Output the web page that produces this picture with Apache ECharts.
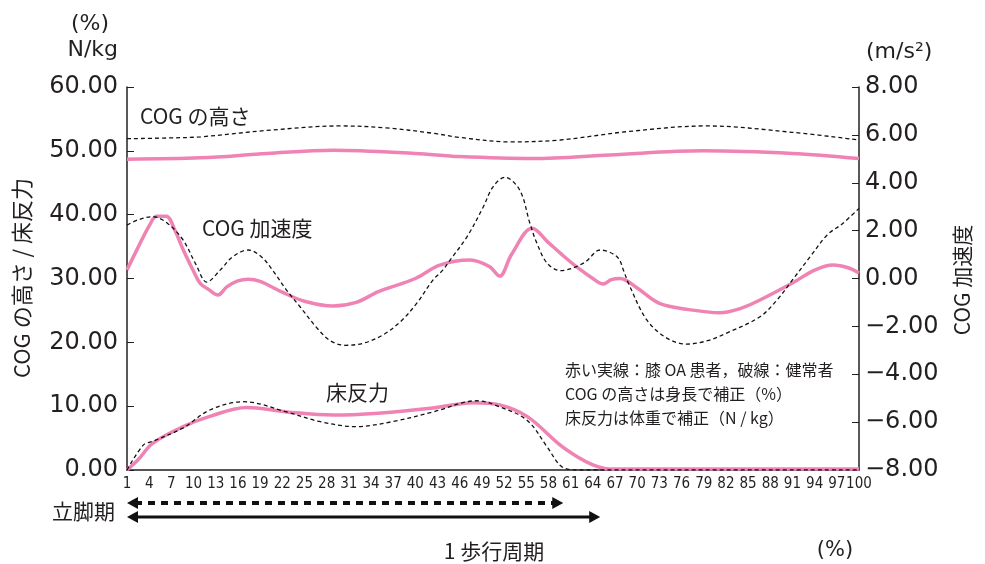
<!DOCTYPE html>
<html><head><meta charset="utf-8">
<script src="https://cdn.jsdelivr.net/npm/echarts@6/dist/echarts.min.js"></script>
<style>html,body{margin:0;padding:0;background:#fff}#c{width:985px;height:564px}</style>
</head><body><div id="c"></div>
<script>
// categories (1 歩行周期 %)
const categories = Array.from({length: 100}, (_, i) => String(i + 1));
// COG の高さ (%)  [gait %, value]
const cogHeightOA = [[1,48.7],[11,48.9],[20,49.6],[28.9,50.1],[40,49.6],[46,49.1],[55.9,48.8],[66.3,49.35],[78.9,50.0],[91,49.6],[100,48.8]];
const cogHeightNormal = [[1,51.9],[6,52.0],[11,52.2],[20,53.2],[29.8,53.9],[36,53.6],[42.4,52.75],[46,52.1],[52.8,51.4],[59.6,51.7],[68.6,53.0],[79.4,53.9],[91,52.9],[100,51.7]];
// COG 加速度 (m/s2)
const cogAccOA = [[1,0.36],[2.5,1.3],[4,2.2],[5,2.6],[6.3,2.6],[7.5,2.0],[8.6,1.2],[10,0.3],[10.9,-0.2],[12,-0.45],[13.3,-0.69],[14.5,-0.35],[16,-0.1],[17.4,-0.03],[19,-0.12],[22,-0.57],[25,-0.95],[28.9,-1.15],[32,-1.0],[35,-0.55],[40,0.0],[43.3,0.56],[47.4,0.77],[50,0.5],[51.4,0.1],[53,1.0],[55.8,2.1],[58,1.5],[60,0.95],[62,0.44],[64,0.0],[65.4,-0.23],[66.5,-0.05],[67.7,0.0],[70,-0.4],[73,-1.04],[77,-1.3],[81.2,-1.43],[84,-1.25],[86.6,-0.9],[91,-0.19],[94,0.35],[96.5,0.56],[98.5,0.45],[100,0.23]];
const cogAccNormal = [[1,2.23],[2.5,2.45],[4.5,2.58],[6.5,2.3],[8.6,1.6],[10.3,0.6],[11.8,-0.15],[13.6,0.35],[15.3,0.91],[17.4,1.19],[19.2,0.9],[20.8,0.3],[22.5,-0.45],[24.4,-1.18],[26.7,-2.07],[28.5,-2.6],[30.5,-2.79],[33,-2.7],[35.6,-2.36],[38,-1.8],[40.2,-1.03],[42.4,-0.06],[43.7,0.35],[44.7,0.77],[47,1.75],[49.2,3.0],[50.5,3.83],[52.1,4.23],[54.1,3.7],[55.5,2.3],[56.4,1.5],[57.8,0.65],[59.6,0.33],[62.8,0.65],[65,1.19],[67.3,0.9],[68.2,0.3],[68.8,-0.19],[71.3,-1.73],[74,-2.49],[76.7,-2.74],[79.5,-2.6],[82.1,-2.28],[86.6,-1.6],[88.9,-0.9],[91,-0.06],[93.4,0.91],[95.7,1.82],[97.8,2.3],[100,2.93]];
// 床反力 (N/kg)
const grfOA = [[1,0],[2.5,1.6],[4.5,4.2],[8.6,6.8],[12.2,8.4],[17.2,9.8],[22.6,9.1],[28.9,8.6],[35,8.9],[42.4,9.7],[47.8,10.55],[51.4,10.2],[55.1,8.4],[59.6,3.9],[62,2.0],[64,0.8],[65.6,0.25],[67,0.15],[100,0.15]];
const grfNormal = [[1,0],[3.2,3.9],[4.5,4.5],[8.6,6.6],[12.2,9.4],[16.7,10.7],[22.6,9.1],[27,7.6],[31.9,6.8],[37,7.6],[42.4,9.1],[48.3,10.85],[51.4,9.9],[55.1,7.8],[57.8,3.65],[59.6,0.7],[61,0.05],[62,0],[100,0]];
// 立脚期 end (% of gait cycle): [健常者, 膝 OA 患者]
const stanceEnd = [60, 65];

const PINK = '#ef83b4';
const INK = '#231f20';
const chart = echarts.init(document.getElementById('c'));
const pinkLine = (data, yi) => ({type:'line', data, xAxisIndex:1, yAxisIndex:yi, smooth:0.35, showSymbol:false, symbol:'none', lineStyle:{color:PINK, width:3.5}, z:2});
const dashLine = (data, yi) => ({type:'line', data, xAxisIndex:1, yAxisIndex:yi, smooth:0.35, showSymbol:false, symbol:'none', lineStyle:{color:'#111', width:1.3, type:[4,3]}, z:3});
const num = v => (v < 0 ? '\u2212' : '') + Math.abs(v).toFixed(2);

chart.setOption({
  animation:false,
  grid:{left:127, right:126, top:87, bottom:94},
  xAxis:[
    {type:'category', data:categories, boundaryGap:false,
     axisLine:{lineStyle:{color:INK, width:1.5}}, axisTick:{show:false},
     axisLabel:{interval:2, showMaxLabel:true, showMinLabel:true, hideOverlap:false, color:INK, fontFamily:'Liberation Sans Narrow, DejaVu Sans Condensed, sans-serif', fontSize:15, margin:7}},
    {type:'value', min:1, max:100, show:false}
  ],
  yAxis:[
    {type:'value', min:0, max:60, interval:10, splitLine:{show:false},
     axisLine:{show:true, lineStyle:{color:INK, width:1.5}},
     axisTick:{show:true, inside:true, length:7, lineStyle:{color:INK}},
     axisLabel:{formatter:num, color:INK, fontFamily:'DejaVu Sans', fontSize:24, margin:9}},
    {type:'value', min:-8, max:8, interval:2, splitLine:{show:false}, position:'right',
     axisLine:{show:true, lineStyle:{color:INK, width:1.5}},
     axisTick:{show:true, inside:true, length:7, lineStyle:{color:INK}},
     axisLabel:{formatter:num, color:INK, fontFamily:'DejaVu Sans', fontSize:24, margin:6}}
  ],
  series:[
    pinkLine(cogHeightOA,0), pinkLine(cogAccOA,1), pinkLine(grfOA,0),
    dashLine(cogHeightNormal,0), dashLine(cogAccNormal,1), dashLine(grfNormal,0)
  ]
});

const JP = "'Noto Sans CJK JP', sans-serif";
const txt = (x, y, text, size, extra) => Object.assign({type:'text', x, y, style:{text, fill:INK, font:size + 'px ' + JP, textAlign:'left', textVerticalAlign:'middle'}}, extra || {});
const x0 = chart.convertToPixel({xAxisIndex:1}, 1);
const xd = chart.convertToPixel({xAxisIndex:1}, stanceEnd[0]);
const xs = chart.convertToPixel({xAxisIndex:1}, stanceEnd[1]);
const arrow = (xa, xb, y, dashed) => [
  {type:'line', shape:{x1:xa+8, y1:y, x2:xb-8, y2:y}, style:{stroke:'#111', lineWidth:dashed?4:3.2, lineDash:dashed?[7,6]:null}},
  {type:'polygon', shape:{points:[[xa,y],[xa+11,y-6],[xa+11,y+6]]}, style:{fill:'#111'}},
  {type:'polygon', shape:{points:[[xb,y],[xb-11,y-6],[xb-11,y+6]]}, style:{fill:'#111'}}
];
chart.setOption({graphic:[
  {type:'text', x:90, y:24, style:{text:'(%)', fill:INK, font:"22px 'DejaVu Sans'", textAlign:'center', textVerticalAlign:'middle'}},
  {type:'text', x:118, y:50, style:{text:'N/kg', fill:INK, font:"22px 'DejaVu Sans'", textAlign:'right', textVerticalAlign:'middle'}},
  {type:'text', x:866, y:52, style:{text:'(m/s²)', fill:INK, font:"22px 'DejaVu Sans'", textAlign:'left', textVerticalAlign:'middle'}},
  txt(140, 116, 'COG の高さ', 21),
  txt(202, 228, 'COG 加速度', 21),
  txt(326, 392, '床反力', 21),
  txt(565, 370, '赤い実線：膝 OA 患者，破線：健常者', 16),
  txt(565, 394, 'COG の高さは身長で補正（%）', 16),
  txt(565, 418, '床反力は体重で補正（N / kg）', 16),
  txt(22, 278, '', 22, {rotation:Math.PI/2, style:{text:'COG の高さ / 床反力', fill:INK, font:'22px ' + JP, textAlign:'center', textVerticalAlign:'middle'}}),
  txt(962, 280, '', 21, {rotation:Math.PI/2, style:{text:'COG 加速度', fill:INK, font:'21px ' + JP, textAlign:'center', textVerticalAlign:'middle'}}),
  txt(52, 511, '立脚期', 21),
  {type:'text', x:494, y:551, style:{text:'1 歩行周期', fill:INK, font:'21px ' + JP, textAlign:'center', textVerticalAlign:'middle'}},
  {type:'text', x:835, y:551, style:{text:'(%)', fill:INK, font:"21px 'DejaVu Sans'", textAlign:'center', textVerticalAlign:'middle'}}
].concat(arrow(x0, xd, 503, true), arrow(x0, xs, 517, false))});
</script></body></html>
